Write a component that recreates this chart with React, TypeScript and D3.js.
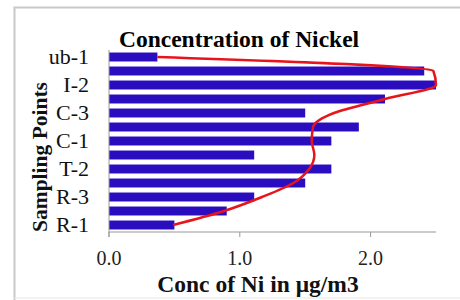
import React from "react";
import * as d3 from "d3";

const categories = ["ub-1", "I-1", "I-2", "I-3", "C-3", "C-2", "C-1", "T-1", "T-2", "R-4", "R-3", "R-2", "R-1"];
const shownLabels = ["ub-1", "I-2", "C-3", "C-1", "T-2", "R-3", "R-1"];
const nickelValues = [0.37, 2.41, 2.5, 2.11, 1.5, 1.91, 1.7, 1.11, 1.7, 1.5, 1.11, 0.9, 0.5];
const trendValues = [0.37, 2.48, 2.5, 2.11, 1.72, 1.56, 1.55, 1.57, 1.53, 1.41, 1.17, 0.88, 0.49];
const xTicks = [0, 1, 2];

const W = 460;
const H = 300;
const left = 109;
const right = 436;
const top = 50;
const bottom = 232;
const font = "'Liberation Serif', 'Times New Roman', serif";

export default function App() {
  const x = d3.scaleLinear().domain([0, 2.5]).range([left, right]);
  const y = d3.scaleBand<string>().domain(categories).range([top, bottom]).paddingInner(0.36).paddingOuter(0.18);
  const bw = y.bandwidth();
  const line = d3
    .line<number>()
    .x((d) => x(d))
    .y((_, i) => (y(categories[i]) as number) + bw / 2)
    .curve(d3.curveMonotoneY);

  return (
    <svg width={W} height={H} style={{ position: "absolute", left: 0, top: 0 }}>
      <rect x={0} y={0} width={W} height={H} fill="#fff" />
      <path d={`M14.5,${H} V7.5 H${W}`} fill="none" stroke="#c8c8c8" strokeWidth={2} />
      <line x1={14} x2={W} y1={298} y2={298} stroke="#e6e6e6" strokeWidth={1} />
      <text x={239} y={47} textAnchor="middle" fontFamily={font} fontWeight="bold" fontSize={23.5} fill="#000">
        Concentration of Nickel
      </text>
      {categories.map((c, i) => (
        <rect key={c} x={x(0)} y={y(c) as number} width={x(nickelValues[i]) - x(0)} height={bw} fill="#2a0dbf" />
      ))}
      <line x1={left} x2={left} y1={top} y2={bottom + 5} stroke="#999" strokeWidth={1} />
      <line x1={left} x2={right} y1={bottom} y2={bottom} stroke="#999" strokeWidth={1} />
      {xTicks.map((t) => (
        <g key={t}>
          <line x1={x(t)} x2={x(t)} y1={bottom} y2={bottom + 5} stroke="#999" strokeWidth={1} />
          <text x={x(t)} y={265} textAnchor="middle" fontFamily={font} fontSize={20} fill="#222">
            {t.toFixed(1)}
          </text>
        </g>
      ))}
      {categories.map((c) =>
        shownLabels.includes(c) ? (
          <text key={c} x={89} y={(y(c) as number) + bw / 2 + 7} textAnchor="end" fontFamily={font} fontSize={22} fill="#111">
            {c}
          </text>
        ) : null
      )}
      <path d={line(trendValues) || ""} fill="none" stroke="#e8141c" strokeWidth={2.5} />
      <text transform={`translate(47,157) rotate(-90)`} textAnchor="middle" fontFamily={font} fontWeight="bold" fontSize={21.5} fill="#111">
        Sampling Points
      </text>
      <text x={258} y={292} textAnchor="middle" fontFamily={font} fontWeight="bold" fontSize={23.5} fill="#111">
        Conc of Ni in μg/m3
      </text>
    </svg>
  );
}
